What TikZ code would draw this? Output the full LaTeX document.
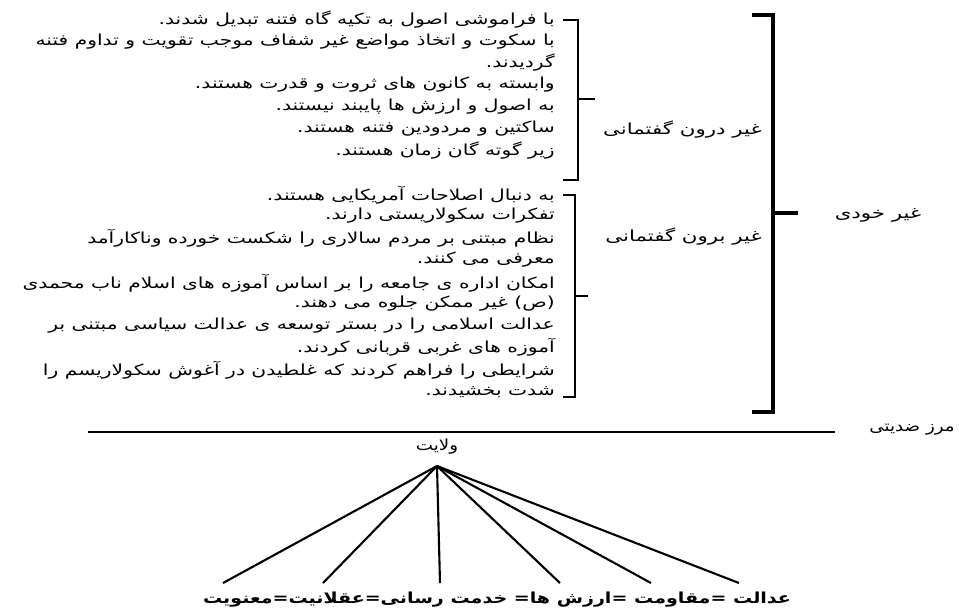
\documentclass[tikz,border=0pt]{standalone}
\usepackage{fontspec}
\usepackage{graphicx}
\newfontfamily\farsifont[Script=Arabic]{DejaVu Sans}
\TeXXeTstate=1
\newcommand{\fa}[2][1.4]{\scalebox{#1}[1]{\beginR #2\endR}}
\usetikzlibrary{positioning}

\begin{document}
\begin{tikzpicture}[x=0.3mm,y=-0.3mm,
  txt/.style={anchor=east,inner sep=0pt,font=\farsifont\fontsize{13}{15}\selectfont},
  lbl/.style={inner sep=0pt,font=\farsifont\fontsize{13}{15}\selectfont},
  brk/.style={line width=1.6pt},
  bigbrk/.style={line width=3.6pt},
  fan/.style={line width=1.8pt}]
  \useasboundingbox (0,0) rectangle (959,607);
  \foreach \y/\t [count=\i] in {
    20/{با فراموشی اصول به تکیه گاه فتنه تبدیل شدند.},
    42/{با سکوت و اتخاذ مواضع غیر شفاف موجب تقویت  و تداوم فتنه},
    63/{گردیدند.},
    85/{وابسته به کانون های ثروت و قدرت هستند.},
    107/{به اصول و ارزش ها پایبند نیستند.},
    129/{ساکتین  و مردودین فتنه هستند.},
    151/{زیر گوته گان زمان هستند.}}{
    \node[txt] (in\i) at (555,\y) {\fa[1.33]{\t}};
  }
  \foreach \y/\t [count=\i] in {
    195/{به دنبال اصلاحات آمریکایی هستند.},
    216/{تفکرات سکولاریستی دارند.},
    238/{نظام مبتنی بر مردم سالاری را شکست خورده  وناکارآمد},
    260/{معرفی می کنند.},
    283/{امکان اداره ی جامعه را بر اساس آموزه های اسلام ناب محمدی},
    304/{(ص) غیر ممکن جلوه  می دهند.},
    326/{عدالت اسلامی را در بستر توسعه ی عدالت سیاسی مبتنی بر},
    347/{آموزه های غربی قربانی کردند.},
    370/{شرایطی را فراهم کردند که غلطیدن در آغوش سکولاریسم را},
    392/{شدت بخشیدند.}}{
    \node[txt] (out\i) at (555,\y) {\fa[1.33]{\t}};
  }
  \draw[brk] (563,20) -- (578,20) -- (578,180) -- (563,180);
  \draw[brk] (578,99) -- (595,99);
  \draw[brk] (563,195) -- (575,195) -- (575,397) -- (563,397);
  \draw[brk] (575,296) -- (588,296);
  \draw[bigbrk] (752,15) -- (773,15) -- (773,412) -- (752,412);
  \draw[bigbrk] (773,213) -- (798,213);
  \node[lbl,anchor=east] (inner) at (762,130) {\fa{غیر درون گفتمانی}};
  \node[lbl,anchor=east] (outer) at (762,237) {\fa{غیر برون گفتمانی}};
  \node[lbl] (nonself) at (878,215) {\fa{غیر خودی}};
  \node[lbl,anchor=east] (border) at (955,430) {\fa[1.2]{مرز ضدیتی}};
  \draw[line width=1.4pt] (88,432) -- (835,432);
  \node[lbl] (velayat) at (437,447) {\fa[1.2]{ولایت}};
  \coordinate (apex) at (437,466);
  \foreach \x [count=\i] in {223,323,440,560,651,739}{
    \coordinate (e\i) at (\x,583);
    \draw[fan] (apex) -- (e\i);
  }
  \node[lbl,font=\farsifont\bfseries\fontsize{13}{15}\selectfont] (values) at (497,600)
    {\fa[1.25]{عدالت  =مقاومت =ارزش ها= خدمت رسانی=عقلانیت=معنویت}};
\end{tikzpicture}
\end{document}
